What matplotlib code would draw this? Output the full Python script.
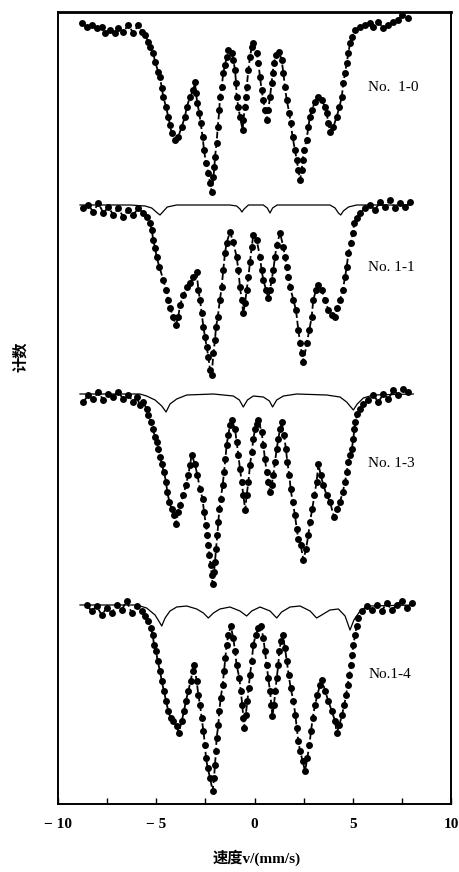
import matplotlib
matplotlib.use("Agg")
import matplotlib.pyplot as plt

# velocity (mm/s), relative counts (%)
spec_10 = [(-8.80, 100.4), (-8.54, 100.0), (-8.29, 100.2), (-8.03, 99.9), (-7.78, 100.0), (-7.61, 99.4),
           (-7.35, 99.7), (-7.10, 99.4), (-6.93, 99.9), (-6.68, 99.5), (-6.42, 100.2), (-6.17, 99.4),
           (-5.91, 100.2), (-5.74, 99.5), (-5.57, 99.2), (-5.40, 98.5), (-5.32, 98.0), (-5.15, 97.4),
           (-5.06, 96.5), (-4.89, 95.5), (-4.81, 95.0), (-4.72, 93.9), (-4.64, 93.0), (-4.50, 92.0),
           (-4.39, 91.0), (-4.30, 90.2), (-4.22, 89.4), (-4.05, 88.7), (-3.88, 89.0), (-3.71, 90.0),
           (-3.54, 91.0), (-3.45, 92.0), (-3.28, 93.0), (-3.11, 93.7), (-3.03, 94.5), (-2.98, 93.4),
           (-2.91, 92.4), (-2.81, 91.4), (-2.74, 90.4), (-2.64, 89.0), (-2.57, 87.7), (-2.47, 86.4),
           (-2.35, 85.4), (-2.26, 84.4), (-2.18, 83.5), (-2.09, 85.0), (-2.04, 86.0), (-2.01, 87.0),
           (-1.93, 88.4), (-1.87, 90.0), (-1.79, 91.7), (-1.76, 93.0), (-1.67, 94.0), (-1.59, 95.4),
           (-1.50, 96.2), (-1.42, 97.0), (-1.33, 97.7), (-1.16, 97.4), (-1.08, 96.7), (-0.99, 95.7),
           (-0.94, 94.4), (-0.91, 93.0), (-0.82, 92.0), (-0.74, 91.0), (-0.60, 89.7), (-0.57, 90.7),
           (-0.48, 92.0), (-0.43, 93.0), (-0.40, 94.0), (-0.31, 95.7), (-0.23, 97.0), (-0.14, 98.0),
           (-0.06, 98.4), (0.11, 97.4), (0.20, 96.4), (0.28, 95.0), (0.36, 93.7), (0.45, 92.7),
           (0.53, 91.7), (0.62, 90.7), (0.70, 91.7), (0.79, 93.0), (0.87, 94.4), (0.92, 95.4),
           (0.99, 96.4), (1.09, 97.2), (1.26, 97.5), (1.38, 96.7), (1.47, 95.4), (1.55, 94.0),
           (1.64, 92.7), (1.77, 91.4), (1.84, 90.4), (1.94, 89.0), (2.06, 87.7), (2.15, 86.7),
           (2.23, 85.7), (2.32, 84.7), (2.40, 85.7), (2.45, 86.7), (2.52, 87.7), (2.65, 88.7),
           (2.74, 90.0), (2.82, 91.0), (2.91, 91.7), (3.08, 92.5), (3.25, 93.0), (3.42, 92.7),
           (3.59, 92.0), (3.67, 91.4), (3.76, 90.4), (3.84, 89.5), (4.01, 90.0), (4.18, 91.0),
           (4.32, 92.0), (4.44, 93.0), (4.52, 94.4), (4.61, 95.4), (4.69, 96.4), (4.78, 97.4),
           (4.86, 98.4), (4.95, 99.0), (5.11, 99.7), (5.37, 100.0), (5.62, 100.2), (5.88, 100.4),
           (6.05, 100.0), (6.30, 100.5), (6.56, 99.9), (6.81, 100.2), (7.07, 100.5), (7.32, 100.7),
           (7.49, 101.2), (7.83, 100.9)]

spec_11 = [(-8.71, 100.2), (-8.46, 100.5), (-8.20, 99.8), (-7.95, 100.7), (-7.69, 99.7), (-7.44, 100.3),
           (-7.18, 99.5), (-6.93, 100.2), (-6.68, 99.3), (-6.42, 100.0), (-6.17, 99.5), (-5.91, 100.2),
           (-5.66, 99.7), (-5.49, 99.3), (-5.32, 98.7), (-5.23, 98.0), (-5.15, 97.0), (-5.06, 96.2),
           (-4.98, 95.3), (-4.84, 94.3), (-4.64, 93.0), (-4.50, 92.0), (-4.39, 91.0), (-4.30, 90.2),
           (-4.13, 89.3), (-4.01, 88.5), (-3.88, 89.3), (-3.79, 90.5), (-3.62, 91.5), (-3.45, 92.3),
           (-3.28, 92.7), (-3.11, 93.3), (-2.94, 93.8), (-2.86, 92.0), (-2.77, 91.0), (-2.69, 89.7),
           (-2.60, 88.3), (-2.52, 87.3), (-2.43, 86.3), (-2.35, 85.3), (-2.26, 84.0), (-2.18, 83.5),
           (-2.09, 85.7), (-2.01, 87.0), (-1.96, 88.3), (-1.87, 89.3), (-1.76, 91.0), (-1.67, 92.3),
           (-1.59, 94.0), (-1.50, 95.7), (-1.42, 96.7), (-1.25, 97.8), (-1.08, 96.8), (-0.91, 95.3),
           (-0.82, 94.0), (-0.74, 92.3), (-0.65, 91.0), (-0.57, 89.7), (-0.48, 90.7), (-0.40, 92.0),
           (-0.31, 93.3), (-0.23, 94.8), (-0.14, 96.3), (-0.06, 97.5), (0.11, 97.0), (0.28, 95.3),
           (0.36, 94.0), (0.45, 93.0), (0.59, 92.0), (0.70, 91.2), (0.79, 92.0), (0.87, 93.0),
           (0.96, 94.0), (1.04, 95.3), (1.13, 96.5), (1.30, 97.7), (1.47, 96.3), (1.55, 95.3),
           (1.64, 94.3), (1.72, 93.3), (1.81, 92.3), (1.98, 91.0), (2.11, 90.0), (2.23, 88.0),
           (2.32, 86.7), (2.40, 85.7), (2.49, 84.8), (2.66, 86.7), (2.79, 88.0), (2.91, 89.3),
           (2.99, 91.0), (3.13, 92.0), (3.25, 92.5), (3.42, 92.0), (3.59, 91.0), (3.76, 90.0),
           (3.93, 89.5), (4.10, 89.3), (4.22, 90.2), (4.35, 91.0), (4.49, 92.0), (4.61, 93.3),
           (4.69, 94.3), (4.78, 95.7), (4.90, 96.7), (5.00, 97.7), (5.08, 98.7), (5.20, 99.2),
           (5.37, 99.7), (5.62, 100.2), (5.88, 100.5), (6.13, 100.0), (6.39, 100.8), (6.64, 100.3),
           (6.90, 101.0), (7.15, 100.2), (7.41, 100.7), (7.66, 100.3), (7.91, 100.8)]

spec_13 = [(-8.71, 99.5), (-8.46, 100.2), (-8.20, 99.8), (-7.95, 100.5), (-7.69, 99.7), (-7.44, 100.3),
           (-7.18, 100.0), (-6.93, 100.5), (-6.68, 99.8), (-6.42, 100.2), (-6.17, 99.5), (-6.00, 100.0),
           (-5.83, 99.2), (-5.66, 99.5), (-5.49, 98.8), (-5.40, 98.2), (-5.28, 97.5), (-5.18, 96.8),
           (-5.06, 96.0), (-4.98, 95.5), (-4.89, 94.8), (-4.81, 94.0), (-4.72, 93.3), (-4.61, 92.5),
           (-4.50, 91.5), (-4.44, 90.5), (-4.33, 89.5), (-4.22, 88.8), (-4.10, 88.2), (-4.00, 87.3),
           (-3.88, 88.5), (-3.79, 89.2), (-3.62, 90.2), (-3.49, 91.2), (-3.37, 92.2), (-3.28, 93.2),
           (-3.20, 94.2), (-3.03, 93.3), (-2.91, 92.2), (-2.77, 90.8), (-2.64, 89.8), (-2.57, 88.5),
           (-2.47, 87.2), (-2.40, 86.2), (-2.35, 85.2), (-2.30, 84.2), (-2.23, 83.2), (-2.18, 82.2),
           (-2.13, 81.3), (-2.06, 82.5), (-2.01, 83.5), (-1.96, 84.8), (-1.89, 86.2), (-1.84, 87.5),
           (-1.79, 88.8), (-1.72, 89.8), (-1.62, 91.2), (-1.55, 92.5), (-1.48, 93.8), (-1.42, 95.2),
           (-1.33, 96.2), (-1.25, 97.2), (-1.16, 97.7), (-0.99, 96.8), (-0.91, 95.5), (-0.82, 94.2),
           (-0.74, 92.8), (-0.65, 91.5), (-0.57, 90.2), (-0.47, 88.7), (-0.40, 90.2), (-0.31, 91.5),
           (-0.23, 93.2), (-0.14, 94.5), (-0.06, 95.8), (0.03, 96.8), (0.11, 97.3), (0.20, 97.7),
           (0.36, 96.5), (0.45, 95.2), (0.53, 93.8), (0.62, 92.5), (0.70, 91.5), (0.79, 90.5),
           (0.87, 91.2), (0.96, 92.2), (1.04, 93.5), (1.13, 94.8), (1.21, 95.8), (1.30, 96.8),
           (1.38, 97.5), (1.50, 96.2), (1.60, 94.8), (1.67, 93.5), (1.77, 92.2), (1.84, 90.8),
           (1.94, 89.5), (2.06, 88.2), (2.15, 86.8), (2.23, 85.8), (2.35, 85.2), (2.49, 83.7),
           (2.62, 84.8), (2.74, 86.2), (2.82, 87.5), (2.94, 88.8), (3.05, 90.2), (3.16, 91.5),
           (3.25, 93.3), (3.37, 92.2), (3.50, 91.2), (3.67, 90.2), (3.84, 89.5), (4.05, 88.0),
           (4.22, 88.8), (4.35, 89.5), (4.49, 90.5), (4.61, 91.5), (4.69, 92.5), (4.78, 93.5),
           (4.86, 94.2), (4.95, 94.8), (5.03, 95.8), (5.08, 96.8), (5.13, 97.5), (5.23, 98.3),
           (5.37, 98.8), (5.54, 99.3), (5.79, 99.7), (6.05, 100.2), (6.30, 99.5), (6.56, 100.3),
           (6.81, 99.8), (7.07, 100.7), (7.32, 100.2), (7.58, 100.8), (7.83, 100.5)]

spec_14 = [(-8.54, 100.3), (-8.29, 99.7), (-8.03, 100.2), (-7.78, 99.3), (-7.52, 100.0), (-7.27, 99.5),
           (-7.01, 100.3), (-6.76, 99.8), (-6.51, 100.7), (-6.25, 99.5), (-6.00, 100.2), (-5.74, 99.7),
           (-5.57, 99.2), (-5.40, 98.7), (-5.28, 98.0), (-5.18, 97.3), (-5.11, 96.3), (-5.01, 95.7),
           (-4.93, 94.7), (-4.81, 93.7), (-4.72, 92.7), (-4.61, 91.7), (-4.50, 90.7), (-4.39, 89.7),
           (-4.27, 89.0), (-4.13, 88.7), (-3.96, 88.2), (-3.86, 87.5), (-3.70, 88.7), (-3.59, 89.7),
           (-3.49, 90.7), (-3.37, 91.7), (-3.25, 92.7), (-3.15, 93.7), (-3.08, 94.3), (-2.94, 92.7),
           (-2.86, 91.3), (-2.77, 90.3), (-2.69, 89.0), (-2.60, 87.7), (-2.52, 86.3), (-2.47, 85.0),
           (-2.38, 84.0), (-2.26, 83.0), (-2.13, 81.7), (-2.06, 83.0), (-2.01, 84.3), (-1.96, 85.7),
           (-1.93, 87.0), (-1.84, 88.3), (-1.79, 89.7), (-1.72, 91.0), (-1.62, 92.3), (-1.55, 93.7),
           (-1.48, 95.0), (-1.42, 96.3), (-1.33, 97.3), (-1.21, 98.2), (-1.08, 97.0), (-0.99, 95.7),
           (-0.91, 94.3), (-0.77, 93.0), (-0.70, 91.7), (-0.62, 90.3), (-0.57, 89.0), (-0.53, 88.0),
           (-0.45, 89.3), (-0.36, 90.7), (-0.30, 92.0), (-0.23, 93.3), (-0.14, 94.7), (-0.06, 96.3),
           (0.06, 97.3), (0.20, 98.0), (0.33, 98.2), (0.45, 97.0), (0.53, 95.7), (0.62, 94.3),
           (0.70, 93.0), (0.79, 91.7), (0.86, 90.3), (0.91, 89.2), (0.99, 90.3), (1.06, 91.7),
           (1.13, 93.0), (1.21, 94.3), (1.26, 95.7), (1.35, 96.7), (1.43, 97.3), (1.55, 96.0),
           (1.64, 94.7), (1.74, 93.3), (1.84, 92.0), (1.98, 90.7), (2.08, 89.3), (2.15, 88.0),
           (2.23, 86.7), (2.32, 85.7), (2.45, 84.7), (2.57, 83.7), (2.69, 85.0), (2.79, 86.3),
           (2.88, 87.7), (2.96, 89.0), (3.08, 90.3), (3.20, 91.3), (3.33, 92.3), (3.45, 92.8),
           (3.59, 91.7), (3.76, 90.7), (3.93, 89.7), (4.10, 88.7), (4.18, 87.5), (4.32, 88.3),
           (4.45, 89.3), (4.57, 90.3), (4.66, 91.3), (4.74, 92.3), (4.83, 93.3), (4.90, 94.3),
           (4.97, 95.3), (5.03, 96.3), (5.12, 97.3), (5.20, 98.2), (5.29, 99.0), (5.46, 99.7),
           (5.71, 100.2), (5.97, 99.8), (6.22, 100.3), (6.47, 99.7), (6.73, 100.5), (6.98, 99.8),
           (7.24, 100.3), (7.49, 100.7), (7.75, 100.0), (8.00, 100.5)]

# thin sub-spectrum curves
sub_11 = [(-8.88, 100.5), (-6.33, 100.5), (-5.57, 100.4), (-5.23, 100.2), (-4.94, 99.7), (-4.81, 99.5),
          (-4.67, 99.8), (-4.44, 100.3), (-3.96, 100.5), (-1.25, 100.5), (-0.91, 100.4), (-0.74, 100.1),
          (-0.64, 99.8), (-0.53, 100.1), (-0.31, 100.5), (0.45, 100.5), (0.65, 100.2), (0.79, 99.7),
          (0.92, 100.2), (1.15, 100.5), (3.84, 100.5), (4.10, 100.2), (4.27, 99.7), (4.39, 99.5),
          (4.52, 99.9), (4.78, 100.3), (5.20, 100.5), (7.91, 100.5)]

sub_13 = [(-8.88, 100.3), (-5.83, 100.3), (-5.49, 100.1), (-5.06, 99.7), (-4.72, 99.1), (-4.50, 98.5),
          (-4.30, 99.3), (-3.96, 99.8), (-3.45, 100.2), (-2.09, 100.3), (-1.08, 100.1), (-0.77, 99.7),
          (-0.57, 99.0), (-0.36, 99.7), (-0.06, 100.1), (0.45, 100.0), (0.76, 99.6), (0.92, 99.0),
          (1.13, 99.7), (1.47, 100.1), (2.15, 100.3), (3.67, 100.2), (4.35, 100.0), (4.69, 99.5),
          (5.03, 98.7), (5.23, 99.3), (5.54, 99.9), (6.05, 100.2), (8.08, 100.3)]

sub_14 = [(-8.88, 100.3), (-6.00, 100.3), (-5.49, 100.0), (-5.06, 99.3), (-4.81, 98.5), (-4.72, 98.2),
          (-4.55, 99.0), (-4.30, 99.7), (-3.96, 100.1), (-3.45, 100.2), (-2.94, 99.9), (-2.60, 99.5),
          (-2.35, 99.0), (-2.09, 99.5), (-1.76, 99.9), (-1.25, 100.1), (-0.74, 99.7), (-0.40, 99.2),
          (-0.14, 99.7), (0.28, 100.1), (0.79, 99.7), (1.13, 99.0), (1.38, 99.6), (1.81, 100.1),
          (2.32, 100.2), (2.83, 99.7), (3.16, 99.0), (3.42, 99.3), (3.84, 99.8), (4.27, 99.9),
          (4.61, 99.2), (4.86, 97.8), (5.06, 98.8), (5.37, 99.7), (5.88, 100.2), (8.08, 100.3)]

names = ["No.  1-0", "No. 1-1", "No. 1-3", "No.1-4"]
spectra = [spec_10, spec_11, spec_13, spec_14]
subs = [None, sub_11, sub_13, sub_14]

# vertical stacking of the four spectra
offsets = [0.0, -18.3, -37.0, -58.1]
label_y = [93.9, 75.9, 56.4, 35.2]

serif = ["Liberation Serif", "DejaVu Serif"]
cjk = ["Noto Sans CJK SC", "DejaVu Sans"]

fig = plt.figure(figsize=(4.59, 8.72), dpi=100)
ax = fig.add_axes([58 / 459, 1 - 804 / 872, 393 / 459, 792 / 872])

for spec, sub, off, name, ly in zip(spectra, subs, offsets, names, label_y):
    v = [p[0] for p in spec]
    c = [p[1] + off for p in spec]
    if sub is not None:
        ax.plot([p[0] for p in sub], [p[1] + off for p in sub],
                color="black", lw=0.9, zorder=2)
    ax.plot(v, c, color="black", ls="--", lw=1.3, zorder=3)
    ax.plot(v, c, "o", color="black", ms=5.0, mew=0, zorder=4)
    ax.text(5.8, ly, name, family=serif, fontsize=11, va="center", ha="left")

ax.set_xlim(-10, 10)
ax.set_ylim(22.3, 101.5)
ax.set_xticks([-10, -5, 0, 5, 10])
ax.set_xticklabels(["\u2212 10", "\u2212 5", "0", "5", "10"],
                   fontfamily=serif, fontweight="bold", fontsize=11)
ax.set_xticks([-7.5, -2.5, 2.5, 7.5], minor=True)
ax.set_yticks([])
ax.tick_params(axis="x", which="both", direction="in", length=4, width=1, pad=10, top=False)
for s in ax.spines.values():
    s.set_linewidth(1.4)
ax.spines["top"].set_linewidth(2.0)

fig.text(257 / 459, 1 - 858 / 872, "速度v/(mm/s)", family=["Liberation Serif", "Noto Sans CJK SC"],
         fontsize=11, fontweight="bold", ha="center", va="center")
fig.text(20 / 459, 1 - 357 / 872, "计数", family=cjk, fontsize=11, fontweight="bold",
         rotation=90, ha="center", va="center")

fig.savefig("out.png", dpi=100)
